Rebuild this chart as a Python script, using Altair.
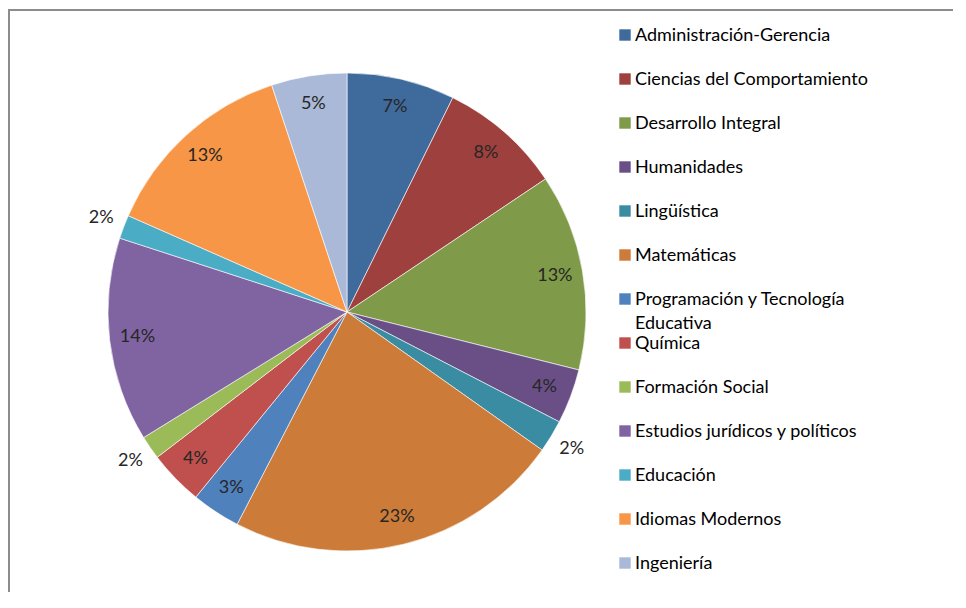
import altair as alt
import pandas as pd

names = [
    "Administración-Gerencia",
    "Ciencias del Comportamiento",
    " Desarrollo Integral",
    "Humanidades",
    "Lingüística",
    " Matemáticas",
    "Programación y Tecnología Educativa",
    "Química",
    "Formación Social",
    "Estudios jurídicos y políticos",
    "Educación",
    " Idiomas Modernos",
    " Ingeniería",
]
values = [7.3, 8.3, 13.3, 3.7, 2.2, 22.8, 3.3, 3.7, 1.6, 13.8, 1.6, 13.3, 5.1]
colors = [
    "#3F6A9C", "#9E413E", "#7F9A48", "#6A4F87", "#3A8CA3", "#CC7B38",
    "#4F81BD", "#C0504D", "#9BBB59", "#8064A2", "#4BACC6", "#F79646", "#A9B9D7",
]

legend_text = [n.replace("Tecnología ", "Tecnología\n") for n in names]

df = pd.DataFrame({
    "name": names,
    "value": values,
    "idx": list(range(len(names))),
    "legend": legend_text,
})

CX, CY, R = 339, 304, 239
FONT = "Lato"

color_scale = alt.Scale(domain=names, range=colors)

pie = alt.Chart(df).mark_arc(outerRadius=R, stroke="#ffffff", strokeWidth=0.6).encode(
    theta=alt.Theta("value:Q", stack=True),
    order=alt.Order("idx:Q"),
    x=alt.value(CX),
    y=alt.value(CY),
    color=alt.Color("name:N", scale=color_scale, legend=None),
)

lab_base = alt.Chart(df).transform_window(
    cum="sum(value)", sort=[alt.SortField("idx")], frame=[None, 0]
).transform_calculate(
    mid="datum.cum - datum.value / 2",
    pct="format(datum.value / 100, '.0%')",
).encode(
    theta=alt.Theta("mid:Q", stack=None),
    x=alt.value(CX),
    y=alt.value(CY),
    text="pct:N",
)

lab_in = lab_base.transform_filter("datum.value >= 3").mark_text(
    font=FONT, fontSize=18, color="#262626", baseline="middle", align="center", radius=211
)
lab_out = lab_base.transform_filter("datum.value < 3").mark_text(
    font=FONT, fontSize=18, color="#262626", baseline="middle", align="center", radius=263
)

yscale = alt.Scale(domain=names, range=[27, 555], padding=0)

leg_sq = alt.Chart(df).mark_square(size=130, opacity=1).encode(
    x=alt.value(617),
    y=alt.Y("name:N", sort=names, scale=yscale, axis=None),
    color=alt.Color("name:N", scale=color_scale, legend=None),
)

leg_txt = alt.Chart(df).mark_text(
    font=FONT, fontSize=18, color="#000000", align="left",
    baseline="alphabetic", dy=6, lineBreak="\n", lineHeight=24,
).encode(
    x=alt.value(627),
    y=alt.Y("name:N", sort=names, scale=yscale, axis=None),
    text="legend:N",
)

border_top = alt.Chart(df).mark_rule(color="#8c8c8c", strokeWidth=2).encode(
    x=alt.value(0), x2=alt.value(945), y=alt.value(2)
)
border_left = alt.Chart(df).mark_rule(color="#8c8c8c", strokeWidth=2).encode(
    x=alt.value(1), y=alt.value(2), y2=alt.value(584)
)

chart = alt.layer(pie, lab_in, lab_out, leg_sq, leg_txt, border_top, border_left).properties(
    width=945, height=584,
    autosize=alt.AutoSizeParams(type="none"),
    padding=0,
).configure_view(stroke=None)

chart.save("out.html", embed_options={"renderer": "svg", "actions": False})
